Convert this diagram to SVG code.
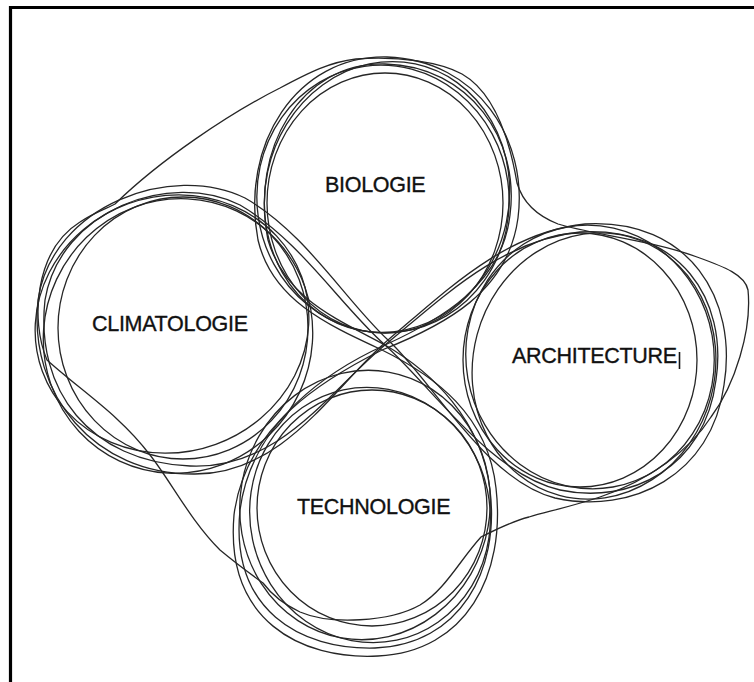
<svg xmlns="http://www.w3.org/2000/svg" width="754" height="682" viewBox="0 0 754 682">
<style>
.ln{fill:none;stroke:#262626;stroke-width:1.3;stroke-linejoin:round}
.lb{font-family:"Liberation Sans",Arial,sans-serif;font-size:21.5px;fill:#111;stroke:#111;stroke-width:0.35;letter-spacing:-0.3px}
.frame{fill:none;stroke:#000;stroke-width:3.2}
</style>
<rect width="754" height="682" fill="#fff"/>
<path class="frame" d="M10.5,682 V7.5 H754"/>
<g id="connectors">
  <path id="hull" class="ln" d="M47,360 C30,320 35,250 80,222 C95,212 108,208 115,204 C160,160 230,113 280,88 C310,72 330,62 356,59 C400,56 440,62 462,74 C490,90 508,130 517,183 C522,200 535,215 558,224 C590,234 650,240 697,257 C725,267 745,275 748,290 C752,330 735,385 711,417 C690,450 650,480 600,497 C570,507 545,512 529,517 C510,522 495,530 481,537 C460,560 445,590 420,605 C390,622 330,625 300,612 C285,605 272,595 263,583 C245,570 232,560 220,550 C190,520 170,480 150,455 C120,415 80,390 47,360 Z"/>
  <path id="fig8-clim-arch" class="ln" d="M385,345 C340,305 300,240 240,205 C170,170 60,210 45,300 C35,390 90,462 190,466 C280,470 330,390 385,345 C440,300 500,240 580,232 C680,226 728,300 716,380 C705,468 630,505 560,490 C490,474 430,385 385,345 Z"/>
  <path class="ln" d="M388,340 C345,300 305,232 245,198 C172,162 52,205 38,300 C28,395 95,475 195,474 C285,474 335,385 388,340 C445,292 505,232 585,224 C690,218 738,300 724,385 C712,475 632,515 555,498 C485,480 432,380 388,340 Z"/>
  <path id="fig8-bio-tech" class="ln" d="M385,345 C335,318 285,298 268,240 C250,150 300,62 385,64 C470,66 520,140 510,215 C502,285 440,320 385,345 C330,370 252,420 240,510 C230,610 300,650 375,648 C460,645 500,570 490,490 C482,420 432,372 385,345 Z"/>
  <path class="ln" d="M382,350 C328,325 272,300 258,240 C240,145 296,55 387,57 C478,60 528,140 518,218 C508,292 445,325 382,350 C326,378 245,425 234,515 C225,620 300,660 378,656 C466,652 506,575 496,488 C488,415 435,376 382,350 Z"/>
</g>
<g id="n-biologie">
  <ellipse class="ln" cx="385" cy="203" rx="118" ry="130"/>
  <ellipse class="ln" cx="383" cy="199" rx="126" ry="134" transform="rotate(-8 383 199)"/>
  <ellipse class="ln" cx="387" cy="197" rx="122" ry="136" transform="rotate(12 387 197)"/>
  <text class="lb" x="325" y="192">BIOLOGIE</text>
</g>
<g id="n-climatologie">
  <ellipse class="ln" cx="183" cy="328" rx="125" ry="131"/>
  <ellipse class="ln" cx="172" cy="324" rx="138" ry="128" transform="rotate(-20 172 324)"/>
  <ellipse class="ln" cx="178" cy="336" rx="134" ry="138" transform="rotate(25 178 336)"/>
  <text class="lb" x="92" y="331">CLIMATOLOGIE</text>
</g>
<g id="n-architecture">
  <ellipse class="ln" cx="580" cy="360" rx="117" ry="127"/>
  <ellipse class="ln" cx="590" cy="357" rx="124" ry="132" transform="rotate(-10 590 357)"/>
  <ellipse class="ln" cx="594" cy="366" rx="121" ry="134" transform="rotate(15 594 366)"/>
  <text class="lb" x="512" y="363">ARCHITECTURE</text>
  <line x1="679.5" y1="352" x2="679.5" y2="369" stroke="#141414" stroke-width="1.6"/>
</g>
<g id="n-technologie">
  <ellipse class="ln" cx="372" cy="508" rx="115" ry="118"/>
  <ellipse class="ln" cx="365" cy="505" rx="125" ry="135" transform="rotate(10 365 505)"/>
  <ellipse class="ln" cx="370" cy="515" rx="120" ry="128" transform="rotate(-12 370 515)"/>
  <text class="lb" x="297" y="514">TECHNOLOGIE</text>
</g>
</svg>
